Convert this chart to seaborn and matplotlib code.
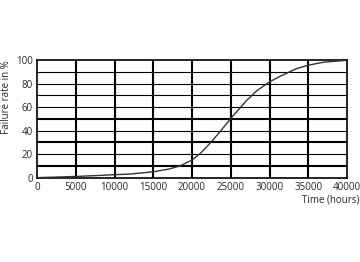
import matplotlib
matplotlib.use("Agg")
import matplotlib.pyplot as plt
import seaborn as sns
import pandas as pd

hours = [0, 2500, 5000, 7500, 10000, 12100, 15000, 17000, 18450, 20000, 21200, 22300, 23600,
         25000, 26000, 27000, 28350, 30000, 31380, 33530, 35000, 36940, 40000]
failure = [0, 0.5, 1, 1.7, 2.5, 3.1, 5, 7.3, 10, 15, 21.5, 29.2, 39,
           50.5, 58, 65.5, 74, 81.6, 86.4, 93, 95.8, 98.3, 100]
x_ticks = [0, 5000, 10000, 15000, 20000, 25000, 30000, 35000, 40000]
y_ticks = [0, 20, 40, 60, 80, 100]
thick_h = [10, 30, 50]
thin_h = [20, 40, 60, 70, 80, 90]

sns.set_style("white")
plt.rcParams['font.family'] = ['Open Sans', 'DejaVu Sans']

fig = plt.figure(figsize=(3.6, 2.62), dpi=100)
ax = fig.add_axes([0.103, 0.322, 0.861, 0.448])

for v in x_ticks[1:-1]:
    ax.axvline(v, color='black', lw=1.5, zorder=1)
for v in thick_h:
    ax.axhline(v, color='black', lw=1.5, zorder=1)
for v in thin_h:
    ax.axhline(v, color='black', lw=0.8, zorder=1)

df = pd.DataFrame({"hours": hours, "failure": failure})
sns.lineplot(data=df, x="hours", y="failure", ax=ax, color='#333333', lw=1.0, zorder=3)

ax.set_xlim(0, 40000)
ax.set_ylim(0, 100)
ax.set_xticks(x_ticks)
ax.set_yticks(y_ticks)
ax.set_xticklabels([str(v) for v in x_ticks], fontsize=7)
ax.set_yticklabels([str(v) for v in y_ticks], fontsize=7)
ax.tick_params(length=0, pad=3)
ax.set_ylabel("Failure rate in %", fontsize=7)
ax.yaxis.set_label_coords(-0.082, 0.69)
ax.set_xlabel("")
fig.text(0.997, 0.237, "Time (hours)", fontsize=7, ha='right', va='center')
for s in ax.spines.values():
    s.set_color('black')
    s.set_linewidth(1.2)

fig.savefig("out.png", dpi=100)
